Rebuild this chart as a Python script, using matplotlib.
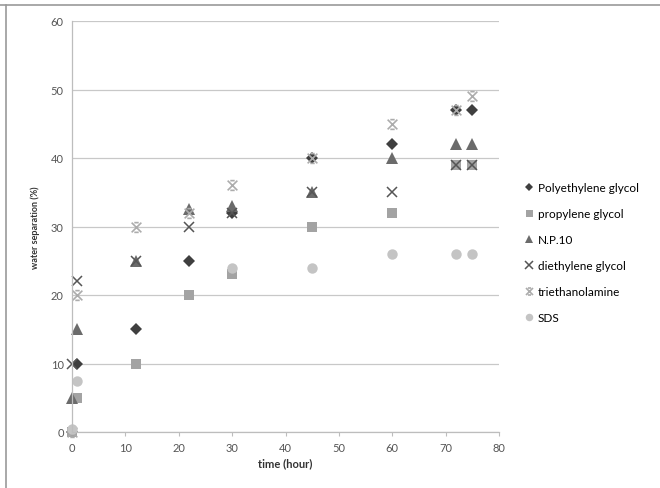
import numpy as np
import matplotlib
matplotlib.use("Agg")
import matplotlib.pyplot as plt
from matplotlib.path import Path
from matplotlib.lines import Line2D

plt.rcParams['font.family'] = ['Lato', 'DejaVu Sans']

nan = np.nan
time_h = [0, 1, 12, 22, 30, 45, 60, 72, 75]

polyethylene = [0, 10, 15, 25, 32, 40, 42, 47, 47]
propylene = [0, 5, 10, 20, 23, 30, 32, 39, 39]
np10 = [5, 15, 25, 32.5, 33, 35, 40, 42, 42]
diethylene = [10, 22, 25, 30, 32, 35, 35, 39, 39]
triethanolamine = [0, 20, 30, 32, 36, 40, 45, 47, 49]
sds = [0.5, 7.5, nan, nan, 24, 24, 26, 26, 26]

labels = ["Polyethylene glycol", "propylene glycol", "N.P.10",
          "diethylene glycol", "triethanolamine", "SDS"]

# Excel style "x with bars" marker
star_x = Path([(-1, -1), (1, 1), (-1, 1), (1, -1),
               (-0.45, 1), (0.45, 1), (-0.45, -1), (0.45, -1)],
              [Path.MOVETO, Path.LINETO] * 4)

styles = [
    dict(marker="D", color="#3f3f3f", ms=6.0, mew=0),
    dict(marker="s", color="#a3a3a3", ms=7.0, mew=0),
    dict(marker="^", color="#6b6b6b", ms=8.0, mew=0),
    dict(marker="x", color="#555555", ms=7.5, mew=1.1),
    dict(marker=star_x, color="#acacac", ms=7.0, mew=1.2),
    dict(marker="o", color="#c4c4c4", ms=7.5, mew=0),
]

series = [polyethylene, propylene, np10, diethylene, triethanolamine, sds]

fig = plt.figure(figsize=(6.6, 4.89), dpi=100)
ax = fig.add_axes([72 / 660, 1 - 433 / 489, (499 - 72) / 660, (433 - 22) / 489])

for vals, lab, st in zip(series, labels, styles):
    ax.plot(time_h, vals, linestyle="none", label=lab, clip_on=False, **st)

ax.set_xlim(0, 80)
ax.set_ylim(0, 60)
ax.set_xticks(range(0, 81, 10))
ax.set_yticks(range(0, 61, 10))
ax.grid(axis="y", color="#c8c8c8", linewidth=0.9)
ax.set_axisbelow(True)
for s in ["top", "right"]:
    ax.spines[s].set_visible(False)
for s in ["left", "bottom"]:
    ax.spines[s].set_color("#bdbdbd")
    ax.spines[s].set_linewidth(0.9)
ax.tick_params(axis="y", length=0, labelsize=8, labelcolor="#555555", pad=6)
ax.tick_params(axis="x", length=3, color="#bdbdbd", labelsize=8,
               labelcolor="#555555", pad=4)
ax.set_xlabel("time (hour)", fontsize=8, fontweight="bold", color="#333333",
              labelpad=3)
ax.set_ylabel("water separation (%)", fontsize=6.5, fontweight="bold",
              color="#333333", labelpad=8)

fig.legend(loc="upper left", bbox_to_anchor=(520 / 660, 1 - 178 / 489),
           frameon=False, fontsize=8.5, handlelength=0.8, handletextpad=0.3,
           labelspacing=1.27, borderaxespad=0, markerscale=0.72)

# picture border (top and left)
fig.add_artist(Line2D([0, 1], [1 - 6 / 489, 1 - 6 / 489], color="#999999",
                      linewidth=1.2, transform=fig.transFigure))
fig.add_artist(Line2D([6 / 660, 6 / 660], [0, 1 - 6 / 489], color="#999999",
                      linewidth=1.2, transform=fig.transFigure))

fig.savefig("out.png", dpi=100)
